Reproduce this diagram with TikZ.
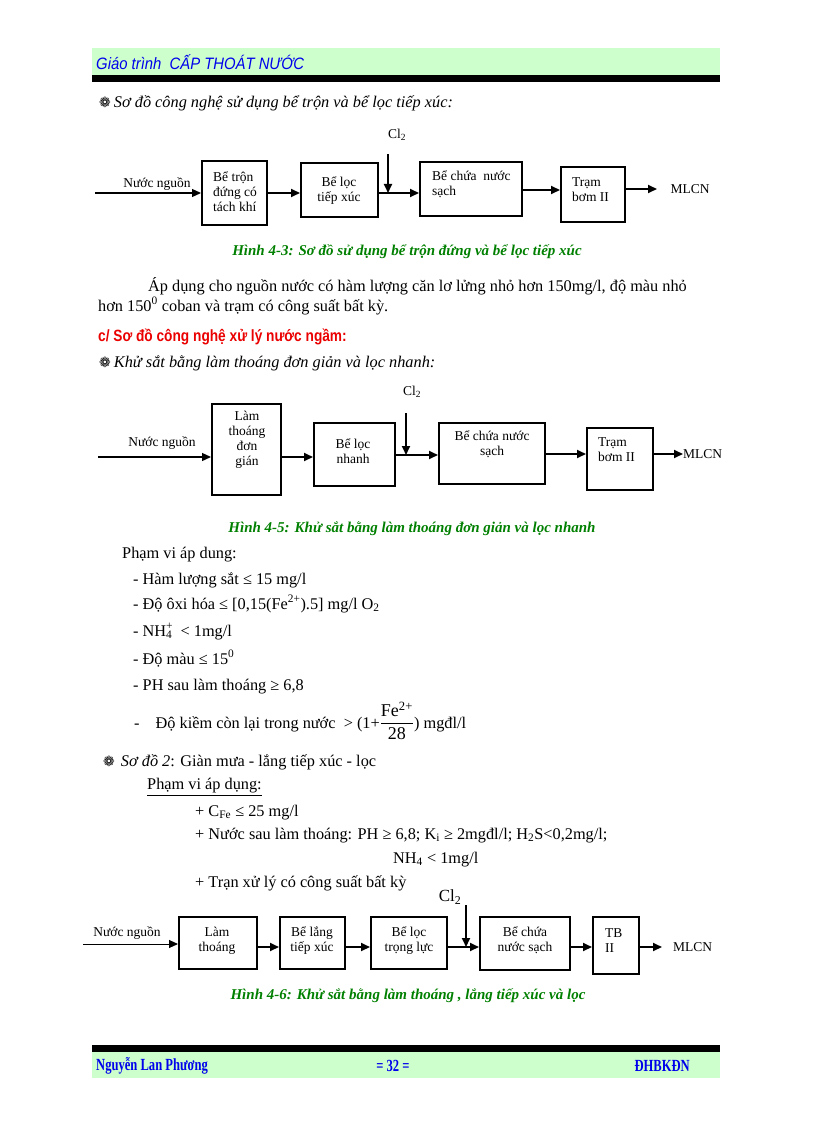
\documentclass[tikz,border=0pt]{standalone}
\usepackage{amsmath}
\usepackage{fontspec}
\setmainfont{Liberation Serif}
\newfontfamily\symfont{DejaVu Sans}
\newfontfamily\headfont{Liberation Sans}[FakeStretch=0.9]
\newfontfamily\condfont{Liberation Sans}[FakeStretch=0.84]
\newfontfamily\footfont{Liberation Serif}[FakeStretch=0.74]
\usepackage{tikz}
\usetikzlibrary{arrows.meta, positioning}
\definecolor{bandgreen}{RGB}{204,255,204}
\definecolor{capgreen}{RGB}{0,128,0}
\definecolor{inkblue}{RGB}{0,0,235}
\definecolor{headred}{RGB}{235,0,0}
\newcommand{\diagsize}{\fontsize{13.5}{15}\selectfont}
\newcommand{\bodysize}{\fontsize{16.3}{19}\selectfont}
\newcommand{\flower}{{\symfont\fontsize{14}{14}\selectfont ❁}}

\tikzset{
  box/.style={draw, line width=2pt, inner sep=0pt},
  btxt/.style={font=\diagsize, inner sep=0pt, align=center},
  flow/.style={->, line width=1.8pt},
  feed/.style={->, line width=1.3pt},
  bodytext/.style={font=\bodysize, inner sep=0pt, anchor=base west},
  figcap/.style={font=\fontsize{15}{17}\selectfont\bfseries\itshape, text=capgreen, inner sep=0pt, anchor=base},
  footline/.style={font=\footfont\bfseries\fontsize{17}{19}\selectfont, text=inkblue, inner sep=0pt}
}

\begin{document}
\begin{tikzpicture}[x=1pt, y=-1pt, >={Triangle[length=9pt, width=8pt]}]
  \useasboundingbox (0,0) rectangle (816,1123);
  \fill[white] (0,0) rectangle (816,1123);

  % header band
  \fill[bandgreen] (92,48) rectangle (720,75);
  \fill[black] (92,75) rectangle (720,82);
  \node[anchor=west, inner sep=0pt, text=inkblue, font=\headfont\itshape\fontsize{16.5}{18}\selectfont] (head) at (96,62) {Giáo trình\ \ CẤP THOÁT NƯỚC};

  % hinh 4-3
  \node[bodytext] (intro1) at (99,108) {\flower\hspace{3pt}\textit{Sơ đồ công nghệ sử dụng bể trộn và bể lọc tiếp xúc:}};
  \coordinate (d1y) at (0,193);
  \node[box, minimum width=65, minimum height=64] (d1tron) at (234.5,193) {};
  \node[box, minimum width=77, minimum height=54] (d1loc) at (339.5,190) {};
  \node[box, minimum width=102, minimum height=54] (d1chua) at (471,189) {};
  \node[box, minimum width=64, minimum height=55] (d1tram) at (593,194.5) {};
  \node[btxt, align=left, anchor=west] (d1tronT) at (213,192) {Bể trộn\\đứng có\\tách khí};
  \node[btxt] (d1locT) at (339,190.5) {Bể lọc\\tiếp xúc};
  \node[btxt, align=left, anchor=west] (d1chuaT) at (432,184.5) {Bể chứa\ \ nước\\sạch};
  \node[btxt, align=left, anchor=west] (d1tramT) at (572,189.5) {Trạm\\bơm II};
  \node[btxt] (d1src) at (157,184) {Nước nguồn};
  \coordinate (d1in) at (95,193);
  \draw[feed] (d1in) -- (d1tron.west |- d1in);
  \draw[flow] (d1tron.east |- d1y) -- (d1loc.west |- d1y);
  \draw[flow] (d1loc.east |- d1y) -- (d1chua.west |- d1y);
  \coordinate (d1y2) at (0,190);
  \draw[flow] (d1chua.east |- d1y2) -- (d1tram.west |- d1y2);
  \coordinate (d1out) at (657,189);
  \draw[flow] (d1tram.east |- d1out) -- (d1out);
  \node[btxt] (d1mlcn) at (690,189) {MLCN};
  \node[btxt] (d1cl) at (397,135) {Cl\textsubscript{2}};
  \coordinate (d1dose) at (388,154);
  \draw[flow] (d1dose) -- (d1dose |- d1y);
  \node[figcap] (cap1) at (407,255) {Hình 4-3: Sơ đồ sử dụng bể trộn đứng và bể lọc tiếp xúc};

  \node[bodytext] (para1) at (148,291) {Áp dụng cho nguồn nước có hàm lượng căn lơ lửng nhỏ hơn 150mg/l, độ màu nhỏ};
  \node[bodytext] (para2) at (98,311) {hơn 150\textsuperscript{0} coban và trạm có công suất bất kỳ.};
  \node[bodytext, font=\condfont\bfseries\fontsize{16.3}{19}\selectfont, text=headred] (secC) at (98,341) {c/ Sơ đồ công nghệ xử lý nước ngầm:};
  \node[bodytext] (intro2) at (99,367) {\flower\hspace{3pt}\textit{Khử sắt bằng làm thoáng đơn giản và lọc nhanh:}};

  % hinh 4-5
  \coordinate (d2y) at (0,457);
  \node[box, minimum width=69, minimum height=91] (d2lam) at (246.5,449.5) {};
  \node[box, minimum width=81, minimum height=63] (d2loc) at (354.5,454.5) {};
  \node[box, minimum width=106, minimum height=61] (d2chua) at (492,453.5) {};
  \node[box, minimum width=66, minimum height=62] (d2tram) at (620,459) {};
  \node[btxt] (d2lamT) at (247,440) {Làm\\thoáng\\đơn\\gián};
  \node[btxt] (d2locT) at (353,451.5) {Bể lọc\\nhanh};
  \node[btxt] (d2chuaT) at (492,444.5) {Bể chứa nước\\sạch};
  \node[btxt, align=left, anchor=west] (d2tramT) at (598,450) {Trạm\\bơm II};
  \node[btxt] (d2src) at (162,443) {Nước nguồn};
  \coordinate (d2in) at (98,457);
  \draw[feed] (d2in) -- (d2lam.west |- d2in);
  \draw[flow] (d2lam.east |- d2y) -- (d2loc.west |- d2y);
  \coordinate (d2y2) at (0,455);
  \draw[flow] (d2loc.east |- d2y2) -- (d2chua.west |- d2y2);
  \coordinate (d2y3) at (0,454);
  \draw[flow] (d2chua.east |- d2y3) -- (d2tram.west |- d2y3);
  \coordinate (d2out) at (683,454);
  \draw[flow] (d2tram.east |- d2out) -- (d2out);
  \node[btxt, anchor=west] (d2mlcn) at (683,454) {MLCN};
  \node[btxt] (d2cl) at (412,392) {Cl\textsubscript{2}};
  \coordinate (d2dose) at (406,413);
  \draw[flow] (d2dose) -- (d2dose |- d2y2);
  \node[figcap] (cap2) at (412,532) {Hình 4-5: Khử sắt bằng làm thoáng đơn giản và lọc nhanh};

  % pham vi ap dung
  \node[bodytext] (scope1) at (122,558) {Phạm vi áp dung:};
  \node[bodytext] (lim1) at (133,584) {- Hàm lượng sắt ≤ 15 mg/l};
  \node[bodytext] (lim2) at (133,609) {- Độ ôxi hóa ≤ [0,15(Fe\textsuperscript{2+}).5] mg/l O\textsubscript{2}};
  \node[bodytext] (lim3) at (133,636) {- NH\rlap{\textsuperscript{+}}\textsubscript{4}\ \ < 1mg/l};
  \node[bodytext] (lim4) at (133,664) {- Độ màu ≤ 15\textsuperscript{0}};
  \node[bodytext] (lim5) at (133,690) {- PH sau làm thoáng ≥ 6,8};
  \node[bodytext] (lim6) at (134,728) {-\hspace{16pt}Độ kiềm còn lại trong nước\ \ > (1+$\dfrac{\mbox{\fontsize{18}{18}\selectfont Fe\textsuperscript{2+}}}{\mbox{\fontsize{18}{18}\selectfont 28}}$) mgđl/l};

  \node[bodytext] (intro3) at (103,766) {\flower\hspace{6pt}\textit{Sơ đồ 2}: Giàn mưa - lắng tiếp xúc - lọc};
  \node[bodytext] (scope2) at (147,789) {\underline{Phạm vi áp dụng:}};
  \node[bodytext] (cond1) at (195,816) {+ C\textsubscript{Fe} ≤ 25 mg/l};
  \node[bodytext] (cond2) at (195,839) {+ Nước sau làm thoáng: PH ≥ 6,8; K\textsubscript{i} ≥ 2mgđl/l; H\textsubscript{2}S<0,2mg/l;};
  \node[bodytext] (cond3) at (393,863) {NH\textsubscript{4} < 1mg/l};
  \node[bodytext] (cond4) at (195,887) {+ Trạn xử lý có công suất bất kỳ};

  % hinh 4-6
  \coordinate (d3y) at (0,947);
  \node[box, minimum width=78, minimum height=52] (d3lam) at (218,943) {};
  \node[box, minimum width=65, minimum height=52] (d3lang) at (312.5,943) {};
  \node[box, minimum width=76, minimum height=52] (d3loc) at (409,943) {};
  \node[box, minimum width=90, minimum height=53] (d3chua) at (525,943.5) {};
  \node[box, minimum width=46, minimum height=57] (d3tb) at (616,945.5) {};
  \node[btxt] (d3lamT) at (217,940.5) {Làm\\thoáng};
  \node[btxt] (d3langT) at (312,940.5) {Bể lắng\\tiếp xúc};
  \node[btxt] (d3locT) at (409,940.5) {Bể lọc\\trọng lực};
  \node[btxt] (d3chuaT) at (525,940.5) {Bể chứa\\nước sạch};
  \node[btxt, align=left, anchor=west] (d3tbT) at (605,940.5) {TB\\II};
  \node[btxt] (d3src) at (127,933) {Nước nguồn};
  \coordinate (d3in) at (83,944);
  \draw[->, line width=1pt] (d3in) -- (d3lam.west |- d3in);
  \draw[flow] (d3lam.east |- d3y) -- (d3lang.west |- d3y);
  \draw[flow] (d3lang.east |- d3y) -- (d3loc.west |- d3y);
  \draw[flow] (d3loc.east |- d3y) -- (d3chua.west |- d3y);
  \draw[flow] (d3chua.east |- d3y) -- (d3tb.west |- d3y);
  \coordinate (d3out) at (662,947);
  \draw[flow] (d3tb.east |- d3out) -- (d3out);
  \node[btxt, anchor=west] (d3mlcn) at (673,947) {MLCN};
  \node[btxt, font=\fontsize{17}{19}\selectfont] (d3cl) at (450,897) {Cl\textsubscript{2}};
  \coordinate (d3dose) at (466,905);
  \draw[flow] (d3dose) -- (d3dose |- d3y);
  \node[figcap] (cap3) at (408,999) {Hình 4-6: Khử sắt bằng làm thoáng , lắng tiếp xúc và lọc};

  % footer band
  \fill[black] (92,1045) rectangle (720,1052);
  \fill[bandgreen] (92,1052) rectangle (720,1078);
  \node[footline, anchor=west] (author) at (96,1066) {Nguyễn Lan Phương};
  \node[footline] (pageno) at (393,1066) {= 32 =};
  \node[footline, anchor=east] (school) at (690,1066) {ĐHBKĐN};
\end{tikzpicture}
\end{document}
